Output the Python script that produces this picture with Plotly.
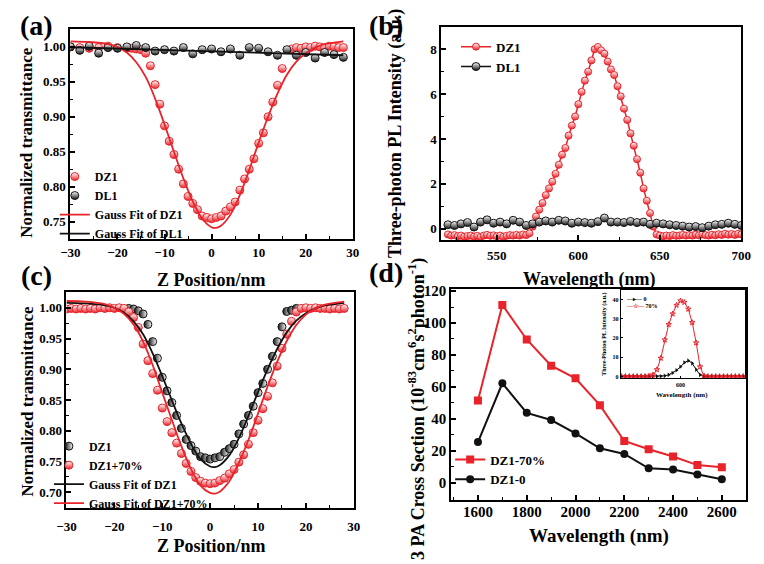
import plotly.graph_objects as go

W, H = 764, 564
RED = '#e8232a'
BLK = '#111111'
FONT = 'Liberation Serif'

# ---------------- data ----------------
# (a) Z-scan
z_a_dz1 = [-30, -28, -26, -24, -22, -20, -18, -17, -16, -15, -14, -13, -12, -11, -10, -9, -8, -7, -6, -5,
           -4, -3, -2, -1, 0, 1, 2, 3, 4, 5, 6, 7, 8, 9, 10, 11, 12, 13, 14, 15,
           17, 18, 19, 20, 21, 22, 23, 24, 25, 26, 27, 28]
t_a_dz1 = [1.000, 0.999, 0.998, 0.999, 1.001, 0.999, 0.998, 0.998, 0.997, 0.996, 0.991, 0.973, 0.946, 0.918, 0.887,
           0.865, 0.846, 0.825, 0.804, 0.786, 0.776, 0.767, 0.758, 0.756, 0.754, 0.756, 0.758, 0.765, 0.771, 0.778,
           0.795, 0.811, 0.825, 0.840, 0.862, 0.877, 0.900, 0.921, 0.945, 0.969,
           0.997, 0.999, 0.998, 1.000, 0.999, 1.001, 1.000, 0.999, 1.001, 1.000, 0.999, 0.999]
z_a_dl1 = [-30, -28, -26, -24, -22, -20, -18, -16, -14, -12, -10, -8, -6, -4, -2, 0, 2, 4, 6, 8, 10, 12, 14, 16,
           18, 20, 22, 24, 26, 28]
t_a_dl1 = [1.000, 0.995, 1.001, 0.991, 0.999, 0.998, 1.000, 1.002, 0.999, 0.994, 0.996, 0.994, 0.999, 0.990,
           0.996, 0.997, 0.993, 0.997, 0.988, 0.999, 0.998, 0.993, 0.988, 0.996, 0.988, 0.992, 0.984, 0.992,
           0.989, 0.985]
fit_z = [-30, -26, -22, -20, -18, -16, -14, -12, -10, -8, -6, -4, -2, 0, 1, 2, 4, 6, 8, 10, 12, 14, 16, 18, 20,
         22, 24, 26, 28]
fit_dz1 = [1.008, 1.007, 1.004, 1.000, 0.992, 0.978, 0.957, 0.926, 0.889, 0.850, 0.812, 0.779, 0.754, 0.742,
           0.741, 0.744, 0.760, 0.788, 0.824, 0.863, 0.900, 0.933, 0.960, 0.979, 0.991, 0.999, 1.004, 1.006, 1.008]
fit_dl1_z = [-30, 28]
fit_dl1 = [0.9995, 0.988]

# (b) three-photon PL spectra
wl_b_dz1 = list(range(520, 702, 2))
pl_b_dz1 = [-0.25, -0.30, -0.28, -0.33, -0.30, -0.35, -0.32, -0.30, -0.34, -0.31, -0.36, -0.30, -0.27, -0.31,
            -0.29, -0.33, -0.30, -0.35, -0.31, -0.28, -0.30, -0.27, -0.30, -0.25, -0.28, -0.20, 0.10, 0.55,
            0.85, 1.15, 1.50, 1.80, 2.10, 2.45, 2.85, 3.30, 3.60, 4.15, 4.60, 5.00, 5.55, 6.10, 6.60, 7.00,
            7.50, 8.00, 8.10, 7.95, 7.80, 7.45, 7.10, 6.85, 6.35, 5.90, 5.35, 4.85, 4.25, 3.70, 3.10, 2.50,
            1.80, 1.25, 0.70, 0.10, -0.25, -0.30, -0.33, -0.30, -0.32, -0.28, -0.31, -0.30, -0.27, -0.30,
            -0.28, -0.30, -0.26, -0.29, -0.25, -0.28, -0.30, -0.26, -0.29, -0.24, -0.27, -0.22, -0.26, -0.23,
            -0.27, -0.22, -0.25]
wl_b_dl1 = list(range(520, 704, 4))
pl_b_dl1 = [0.18, 0.15, 0.22, 0.28, 0.08, 0.30, 0.40, 0.25, 0.30, 0.22, 0.38, 0.30, 0.15, 0.22, 0.30, 0.35,
            0.30, 0.38, 0.35, 0.25, 0.30, 0.28, 0.25, 0.32, 0.48, 0.30, 0.30, 0.28, 0.33, 0.28, 0.30, 0.20,
            0.25, 0.22, 0.18, 0.15, 0.12, 0.08, 0.10, 0.05, 0.12, 0.18, 0.20, 0.25, 0.20, 0.15]

# (c) Z-scan with 70 %
z_c_dz1 = [-17, -16, -15, -14, -13, -12, -11, -10, -9, -8, -7, -6, -5, -4, -3, -2, -1, 0, 1, 2, 3, 4, 5, 6, 7,
           8, 9, 10, 11, 12, 13, 14, 15, 16, 17, 18]
t_c_dz1 = [0.999, 0.998, 0.995, 0.990, 0.973, 0.945, 0.918, 0.887, 0.865, 0.846, 0.825, 0.804, 0.786, 0.776,
           0.767, 0.758, 0.756, 0.754, 0.756, 0.758, 0.765, 0.771, 0.778, 0.795, 0.811, 0.825, 0.840, 0.862,
           0.877, 0.900, 0.921, 0.945, 0.969, 0.994, 0.996, 0.999]
z_c_70 = list(range(-30, 29))
t_c_70 = [0.998, 0.999, 0.998, 0.999, 0.998, 0.999, 0.998, 1.000, 0.999, 1.000, 0.999, 1.000, 0.999, 0.993,
          0.984, 0.968, 0.941, 0.914, 0.893, 0.866, 0.837, 0.815, 0.797, 0.780, 0.763, 0.747, 0.734, 0.724,
          0.718, 0.715, 0.714, 0.715, 0.719, 0.723, 0.730, 0.737, 0.749, 0.761, 0.778, 0.797, 0.817, 0.836,
          0.856, 0.878, 0.905, 0.934, 0.957, 0.978, 0.993, 0.999, 1.000, 0.999, 1.000, 0.999, 0.999, 0.998,
          0.999, 0.998, 0.999]
fit_70 = [1.011, 1.010, 1.006, 1.000, 0.990, 0.973, 0.945, 0.907, 0.862, 0.818, 0.775, 0.738, 0.711, 0.699,
          0.698, 0.701, 0.718, 0.748, 0.785, 0.828, 0.872, 0.912, 0.946, 0.972, 0.989, 0.999, 1.005, 1.008, 1.010]

# (d) 3PA cross section
wl_d = [1600, 1700, 1800, 1900, 2000, 2100, 2200, 2300, 2400, 2500, 2600]
cs_70 = [51.5, 111.3, 89.7, 73.3, 65.4, 48.6, 26.2, 21.0, 16.5, 11.1, 9.7]
cs_0 = [25.5, 62.3, 43.8, 39.3, 30.9, 21.6, 18.1, 9.1, 8.3, 5.2, 2.3]

# inset
wl_in = list(range(480, 736, 8))
in_70 = [0, 0, 0, 0, 0, 0, 0, 0.2, 0.8, 3.5, 9.5, 19.0, 27.0, 32.5, 37.0, 39.3, 38.5, 35.0, 28.0, 17.5, 5.0,
         0.3, 0, 0, 0, 0, 0, 0, 0, 0, 0, 0]
in_0 = [0, 0, 0, 0, 0, 0, 0, 0, 0, 0, 0.1, 0.3, 0.8, 1.8, 3.2, 5.0, 7.2, 8.2, 6.8, 3.5, 0.8, 0, 0, 0, 0, 0, 0,
        0, 0, 0, 0, 0]

# ---------------- figure ----------------
fig = go.Figure()


def hx(px):
    return px / W


def hy(py):
    return 1 - py / H


def half_marker(color, gtype, size=8, fill='white'):
    return dict(symbol='circle', size=size, color=fill,
                gradient=dict(type=gtype, color=color), line=dict(color=color, width=1))


# (a)
fig.add_trace(go.Scatter(x=z_a_dz1, y=t_a_dz1, mode='markers', name='DZ1',
                         marker=half_marker(RED, 'vertical'), xaxis='x', yaxis='y', legend='legend'))
fig.add_trace(go.Scatter(x=z_a_dl1, y=t_a_dl1, mode='markers', name='DL1',
                         marker=half_marker(BLK, 'vertical'), xaxis='x', yaxis='y', legend='legend'))
fig.add_trace(go.Scatter(x=fit_z, y=fit_dz1, mode='lines', name='Gauss Fit of DZ1', line_shape='spline',
                         line=dict(color=RED, width=1.8), xaxis='x', yaxis='y', legend='legend'))
fig.add_trace(go.Scatter(x=fit_dl1_z, y=fit_dl1, mode='lines', name='Gauss Fit of DL1',
                         line=dict(color=BLK, width=1.8), xaxis='x', yaxis='y', legend='legend'))

# (b)
fig.add_trace(go.Scatter(x=wl_b_dz1, y=pl_b_dz1, mode='lines+markers', name='DZ1',
                         marker=half_marker(RED, 'vertical', size=7), line=dict(color=RED, width=1.5),
                         xaxis='x2', yaxis='y2', legend='legend2'))
fig.add_trace(go.Scatter(x=wl_b_dl1, y=pl_b_dl1, mode='lines+markers', name='DL1',
                         marker=half_marker(BLK, 'vertical', size=8), line=dict(color=BLK, width=1.5),
                         xaxis='x2', yaxis='y2', legend='legend2'))

# (c)
fig.add_trace(go.Scatter(x=z_c_dz1, y=t_c_dz1, mode='markers', name='DZ1',
                         marker=dict(symbol='circle', size=8, color=BLK,
                                     gradient=dict(type='horizontal', color='white'),
                                     line=dict(color=BLK, width=1)),
                         xaxis='x3', yaxis='y3', legend='legend3'))
fig.add_trace(go.Scatter(x=z_c_70, y=t_c_70, mode='markers', name='DZ1+70%',
                         marker=half_marker(RED, 'vertical'), xaxis='x3', yaxis='y3', legend='legend3'))
fig.add_trace(go.Scatter(x=fit_z, y=fit_dz1, mode='lines', name='Gauss Fit of DZ1', line_shape='spline',
                         line=dict(color=BLK, width=1.8), xaxis='x3', yaxis='y3', legend='legend3'))
fig.add_trace(go.Scatter(x=fit_z, y=fit_70, mode='lines', name='Gauss Fit of DZ1+70%', line_shape='spline',
                         line=dict(color=RED, width=1.8), xaxis='x3', yaxis='y3', legend='legend3'))

# (d)
fig.add_trace(go.Scatter(x=wl_d, y=cs_70, mode='lines+markers', name='DZ1-70%',
                         marker=dict(symbol='square', size=8, color=RED), line=dict(color=RED, width=2),
                         xaxis='x4', yaxis='y4', legend='legend4'))
fig.add_trace(go.Scatter(x=wl_d, y=cs_0, mode='lines+markers', name='DZ1-0',
                         marker=dict(symbol='circle', size=8, color=BLK), line=dict(color=BLK, width=2),
                         xaxis='x4', yaxis='y4', legend='legend4'))

# inset (legend drawn as text below)
fig.add_trace(go.Scatter(x=wl_in, y=in_0, mode='lines+markers', name='0', showlegend=False,
                         marker=dict(symbol='triangle-right', size=4, color=BLK), line=dict(color=BLK, width=1),
                         xaxis='x5', yaxis='y5'))
fig.add_trace(go.Scatter(x=wl_in, y=in_70, mode='lines+markers', name='70%', showlegend=False,
                         marker=dict(symbol='star-open', size=4, color=RED), line=dict(color=RED, width=1),
                         xaxis='x5', yaxis='y5'))


def axis(domain, rng, anchor, fs=13, **kw):
    d = dict(domain=domain, range=rng, anchor=anchor, showline=True, linewidth=2, linecolor='black',
             mirror=True, ticks='inside', ticklen=5, tickwidth=1.5, tickcolor='black', showgrid=False,
             zeroline=False, tickfont=dict(family=FONT, size=fs, color='black', weight='bold'))
    d.update(kw)
    return d


def minor(dt, tick0=None, ln=3):
    m = dict(ticks='inside', ticklen=ln, tickwidth=1.2, tickcolor='black', dtick=dt, showgrid=False)
    if tick0 is not None:
        m['tick0'] = tick0
    return m


def lg(px, py, size):
    return dict(x=hx(px), y=hy(py), xanchor='left', yanchor='top', bgcolor='rgba(0,0,0,0)',
                font=dict(family=FONT, size=size, color='black', weight='bold'), itemwidth=30,
                tracegroupgap=0)


fig.update_layout(
    width=W, height=H, autosize=False, margin=dict(l=0, r=0, t=0, b=0),
    paper_bgcolor='white', plot_bgcolor='white',
    font=dict(family=FONT, color='black'),
    xaxis=axis([hx(62), hx(352)], [-30, 30], 'y', dtick=10, minor=minor(5)),
    yaxis=axis([hy(236), hy(23)], [0.725, 1.026], 'x', dtick=0.05, tickformat='.2f', minor=minor(0.025)),
    xaxis2=axis([hx(443), hx(751)], [516, 700], 'y2', tickvals=[550, 600, 650, 700], minor=minor(25, 525),
                ticklabelstandoff=2),
    yaxis2=axis([hy(237), hy(21)], [-0.5, 9.0], 'x2', dtick=2, minor=minor(1)),
    xaxis3=axis([hx(58), hx(353)], [-30, 30], 'y3', dtick=10, minor=minor(5), ticklabelstandoff=6),
    yaxis3=axis([hy(508), hy(290)], [0.675, 1.025], 'x3', dtick=0.05, tickformat='.2f', minor=minor(0.025)),
    xaxis4=axis([hx(453), hx(756)], [1490, 2700], 'y4', fs=15, dtick=200, tick0=1600, minor=minor(100),
                ticklabelstandoff=-3),
    yaxis4=axis([hy(500), hy(287)], [-10.6, 121], 'x4', fs=15, dtick=20, minor=minor(10)),
    xaxis5=axis([hx(627), hx(755)], [478, 732], 'y5', fs=6, tickvals=[600], linewidth=1, ticklen=2,
                tickwidth=1),
    yaxis5=axis([hy(377), hy(288)], [-1, 44.7], 'x5', fs=6, dtick=10, linewidth=1, ticklen=2, tickwidth=1),
    legend=lg(46, 158, 12),
    legend2=lg(458, 26, 13),
    legend3=lg(40, 431, 12),
    legend4=lg(452, 444, 13),
)


def ann(text, px, py, size, angle=0, xanchor='center'):
    fig.add_annotation(text='<b>' + text + '</b>', x=hx(px), y=hy(py), xref='paper', yref='paper',
                       showarrow=False, textangle=angle, xanchor=xanchor, yanchor='middle',
                       font=dict(family=FONT, size=size, color='black'))


ann('(a)', 27, 20, 28)
ann('(b)', 386, 20, 28)
ann('(c)', 27, 273, 28)
ann('(d)', 386, 270, 28)
ann('Normalized transmittance', 17, 138, 17, -90)
ann('Z Position/nm', 207, 277, 18)
ann('Three-photon PL Intensity (a.u.)', 396, 129, 18, -90)
ann('Wavelength (nm)', 595, 277, 18)
ann('Normalized transmittance', 17, 400, 17, -90)
ann('Z Position/nm', 207, 547, 18)
ann('3 PA Cross Section (10<sup>-83</sup>cm<sup>6</sup>s<sup>2</sup>photon<sup>-1</sup>)', 418, 408, 18, -90)
ann('Wavelength (nm)', 605, 537, 19)
ann('Three-Photon PL Intensity (a.u.)', 611, 333, 6, -90)
ann('Wavelength (nm)', 690, 394, 7)
ann('<span style="color:#111111">—▸—</span> 0', 631, 297, 6, xanchor='left')
ann('<span style="color:#e8232a">—☆—</span> 70%', 631, 304, 6, xanchor='left')

fig.write_html('out.html', config={'displayModeBar': False, 'responsive': False},
               post_script='document.body.style.margin = "0px"; document.body.style.overflow = "hidden";')
